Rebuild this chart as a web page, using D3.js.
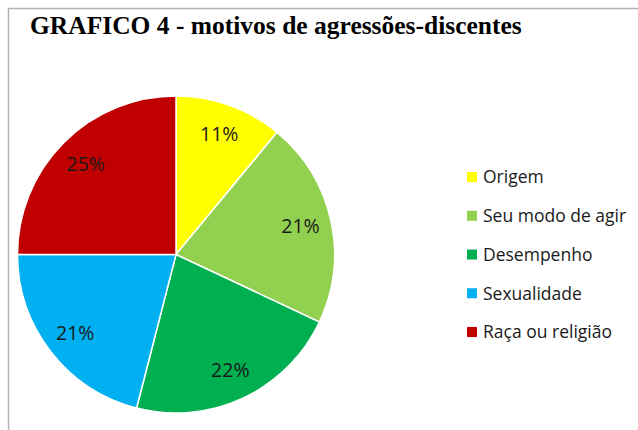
<!DOCTYPE html>
<html>
<head>
<meta charset="utf-8">
<script src="https://cdn.jsdelivr.net/npm/d3@7.9.0/dist/d3.min.js"></script>
<style>
  html, body { margin: 0; padding: 0; background: #fff; }
  svg { display: block; }
</style>
</head>
<body>
<div id="chart"></div>
<script>
const categories = ['Origem', 'Seu modo de agir', 'Desempenho', 'Sexualidade', 'Raça ou religião'];
const values = [11, 21, 22, 21, 25];
const colors = ['#FFFF00', '#92D050', '#00B050', '#00B0F0', '#C00000'];
const title = 'GRAFICO 4 - motivos de agressões-discentes';

const width = 638;
const height = 430;

const svg = d3.select('#chart')
    .append('svg')
    .attr('width', width)
    .attr('height', height);

// chart frame (only top and left edges visible in the crop)
svg.append('path')
    .attr('d', `M8.5,${height} V8.5 H${width}`)
    .attr('fill', 'none')
    .attr('stroke', '#b3b3b3')
    .attr('stroke-width', 1.5);

svg.append('text')
    .attr('x', 30)
    .attr('y', 34)
    .attr('font-family', '"Liberation Serif", serif')
    .attr('font-weight', 'bold')
    .attr('font-size', 25.5)
    .attr('fill', '#000')
    .text(title);

const cx = 176;
const cy = 254.5;
const radius = 158.5;

const pie = d3.pie().sort(null).value(d => d);
const arc = d3.arc().innerRadius(0).outerRadius(radius);
const labelArc = d3.arc().innerRadius(radius * 0.805).outerRadius(radius * 0.805);

const g = svg.append('g').attr('transform', `translate(${cx},${cy})`);

const slices = pie(values);

g.selectAll('path')
    .data(slices)
    .join('path')
    .attr('d', arc)
    .attr('fill', (d, i) => colors[i])
    .attr('stroke', '#fff')
    .attr('stroke-width', 1.5);

g.selectAll('text')
    .data(slices)
    .join('text')
    .attr('transform', d => `translate(${labelArc.centroid(d)})`)
    .attr('text-anchor', 'middle')
    .attr('dy', '0.35em')
    .attr('font-family', '"Open Sans", sans-serif')
    .attr('font-size', 19.5)
    .attr('fill', '#1a1a1a')
    .text(d => d.data + '%');

// legend
const legendY = d3.scalePoint()
    .domain(categories)
    .range([177, 332]);

const legend = svg.append('g');

const items = legend.selectAll('g')
    .data(categories)
    .join('g')
    .attr('transform', d => `translate(467,${legendY(d)})`);

items.append('rect')
    .attr('x', 0)
    .attr('y', -5)
    .attr('width', 10)
    .attr('height', 10)
    .attr('fill', (d, i) => colors[i]);

items.append('text')
    .attr('x', 16)
    .attr('dy', '0.36em')
    .attr('font-family', '"Open Sans", sans-serif')
    .attr('font-size', 17.5)
    .attr('fill', '#1a1a1a')
    .text(d => d);
</script>
</body>
</html>
